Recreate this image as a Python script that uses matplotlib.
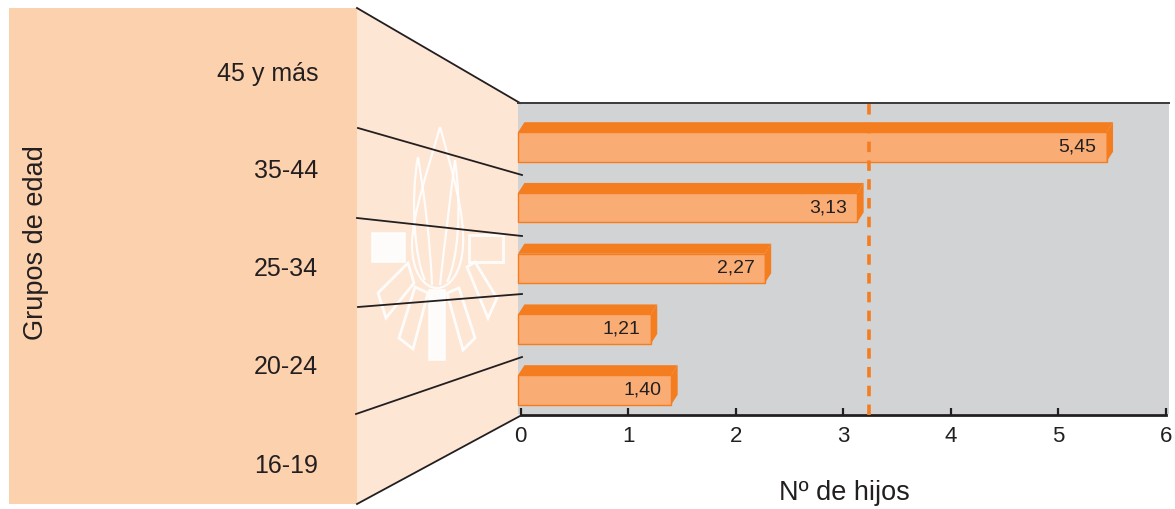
import matplotlib
matplotlib.use('Agg')
import matplotlib.pyplot as plt
from matplotlib.patches import Polygon, Rectangle, PathPatch
from matplotlib.path import Path
from matplotlib.lines import Line2D
import matplotlib.transforms as mtrans

# ---------------- data ----------------
categories = ['45 y más', '35-44', '25-34', '20-24', '16-19']
values = [5.45, 3.13, 2.27, 1.21, 1.40]
mean_children = 3.24
x_ticks = [0, 1, 2, 3, 4, 5, 6]
x_label = 'Nº de hijos'
y_label = 'Grupos de edad'

# ---------------- style ----------------
W, H = 1175, 509
TXT = '#231F20'
PANEL = '#FCD1AE'
TRAP = '#FDE6D4'
GRAY = '#D1D3D4'
FRONT = '#F9AD75'
DARK = '#F47D20'

plt.rcParams['font.family'] = ['Liberation Sans', 'DejaVu Sans']
fig = plt.figure(figsize=(W / 100, H / 100), dpi=100)
PX = mtrans.Affine2D().scale(1 / W, -1 / H).translate(0, 1) + fig.transFigure

# background panels (pixel layout)
fig.add_artist(Rectangle((9, 8), 348, 496, transform=PX, fc=PANEL, ec='none', zorder=-3))
fig.add_artist(Polygon([(357, 8), (520, 103), (520, 415), (357, 504)], closed=True,
                       transform=PX, fc=TRAP, ec='none', zorder=-3))
fig.add_artist(Rectangle((518, 103), 651, 311, transform=PX, fc=GRAY, ec='none', zorder=-3))

# watermark (campfire logo)
wm = dict(transform=PX, zorder=-2, alpha=0.9)
fig.add_artist(Rectangle((372, 233), 33, 29, fc='white', ec='white', lw=1.2, **wm))
fig.add_artist(Rectangle((469, 235), 34, 27, fc='none', ec='white', lw=2, **wm))
fig.add_artist(Rectangle((429, 290), 16, 70, fc='white', ec='white', lw=1.2, **wm))
fig.add_artist(Polygon([(378, 293), (408, 263), (414, 283), (386, 318)], closed=True,
                       fc='none', ec='white', lw=2, **wm))
fig.add_artist(Polygon([(399, 338), (415, 287), (428, 293), (413, 349)], closed=True,
                       fc='none', ec='white', lw=2, **wm))
fig.add_artist(Polygon([(447, 293), (459, 288), (475, 338), (463, 350)], closed=True,
                       fc='none', ec='white', lw=2, **wm))
fig.add_artist(Polygon([(467, 267), (475, 262), (497, 298), (488, 318)], closed=True,
                       fc='none', ec='white', lw=2, **wm))
C4 = Path.CURVE4
flame_paths = [
    [(440, 127), (452, 170), (465, 215), (463, 245), (462, 272), (450, 288), (437, 288),
     (424, 288), (412, 272), (412, 245), (412, 215), (428, 170), (440, 127)],
    [(418, 157), (425, 200), (430, 240), (432, 285)],
    [(418, 157), (410, 200), (415, 260), (425, 280)],
    [(455, 160), (450, 200), (445, 240), (440, 285)],
    [(455, 160), (462, 210), (458, 260), (447, 282)],
]
for pts in flame_paths:
    codes = [Path.MOVETO] + [C4] * (len(pts) - 1)
    fig.add_artist(PathPatch(Path(pts, codes), fc='none', ec='white', lw=1.6, **wm))

# perspective lines
persp = [
    [(357, 8), (520, 103)],
    [(358, 128), (522, 175)],
    [(357, 218), (522, 236)],
    [(358, 307), (522, 294)],
    [(356, 414), (522, 357)],
    [(357, 504), (520, 416)],
]
for (x0, y0), (x1, y1) in persp:
    fig.add_artist(Line2D([x0, x1], [y0, y1], transform=PX, color=TXT, lw=1.3, zorder=-1))
fig.add_artist(Line2D([518, 1169], [103.5, 103.5], transform=PX, color='#3A3A3A', lw=1.4, zorder=-1))

# category labels in the left panel
label_baselines = [80.5, 178, 276.5, 374, 473]
for lab, yb in zip(categories, label_baselines):
    fig.text(318 / W, 1 - yb / H, lab, ha='right', va='baseline', fontsize=18, color=TXT)

fig.text(36 / W, 1 - 243 / H, y_label, rotation=90, ha='center', va='center',
         fontsize=19.5, color=TXT)
fig.text(844 / W, 1 - 493 / H, x_label, ha='center', va='center', fontsize=19.5, color=TXT)

# ---------------- main axes ----------------
ax_l, ax_r, ax_t, ax_b = 520.7, 1165.7, 103, 415
ax = fig.add_axes([ax_l / W, (H - ax_b) / H, (ax_r - ax_l) / W, (ax_b - ax_t) / H])
ax.set_facecolor('none')
ax.set_xlim(0, 6)
ax.set_ylim(4.412, -0.724)

BAR_LEFT = -0.025
h = 0.486
dx = 0.060
dy = 0.165
for i, v in enumerate(values):
    ax.barh(i, v - BAR_LEFT, left=BAR_LEFT, height=h, color=FRONT, edgecolor=DARK,
            lw=1, zorder=3, clip_on=False)
    top = i - h / 2
    bot = i + h / 2
    ax.add_patch(Polygon([(BAR_LEFT, top), (BAR_LEFT + dx, top - dy), (v + dx, top - dy), (v, top)],
                         closed=True, fc=DARK, ec='none', zorder=3, clip_on=False))
    ax.add_patch(Polygon([(v, top), (v + dx, top - dy), (v + dx, bot - dy), (v, bot)],
                         closed=True, fc=DARK, ec='none', zorder=3, clip_on=False))
    ax.text(v - 0.093, i, f'{v:.2f}'.replace('.', ','), ha='right', va='center',
            fontsize=14, color=TXT, zorder=4)

ax.axvline(mean_children, color=DARK, lw=2.6, linestyle=(0, (2.9, 2.3)), zorder=5)

for s in ['left', 'right', 'top']:
    ax.spines[s].set_visible(False)
ax.spines['bottom'].set_linewidth(2)
ax.spines['bottom'].set_color(TXT)
ax.set_yticks([])
ax.set_xticks(x_ticks)
ax.set_xticklabels([str(t) for t in x_ticks])
ax.tick_params(axis='x', direction='in', length=5, width=1.6, colors=TXT,
               labelsize=16, pad=8)

fig.savefig('out.png', dpi=100)
